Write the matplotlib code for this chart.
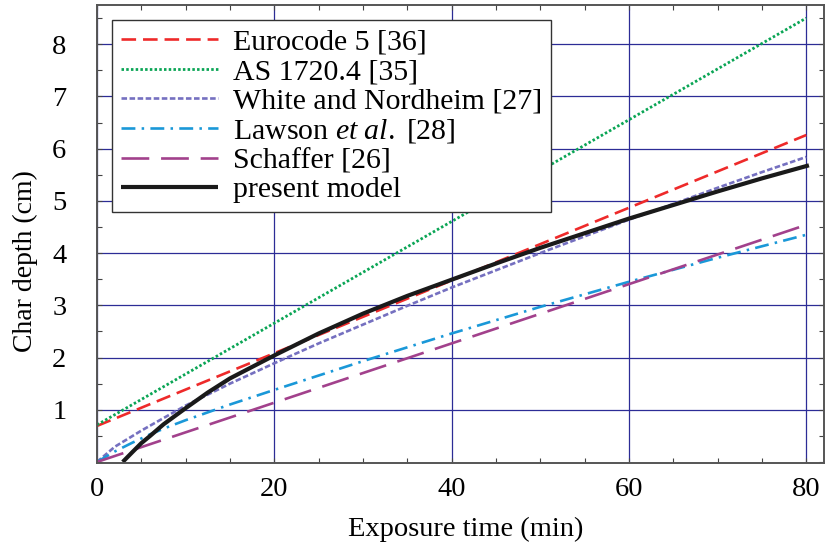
import matplotlib
matplotlib.use('Agg')
import matplotlib.pyplot as plt
from matplotlib.ticker import MultipleLocator

plt.rcParams['font.family'] = ['Liberation Serif', 'DejaVu Serif']
plt.rcParams['mathtext.fontset'] = 'custom'
plt.rcParams['mathtext.rm'] = 'Liberation Serif'
plt.rcParams['mathtext.it'] = 'Liberation Serif:italic'
plt.rcParams['lines.scale_dashes'] = False

# data
euro_t = [0, 80]
euro_d = [0.69, 6.26]

as_t = [0, 80]
as_d = [0.71, 8.5]

wn_t = [0, 2, 5, 10, 15, 20, 25, 30, 35, 40, 45, 50, 55, 60, 65, 70, 75, 80]
wn_d = [0, 0.29, 0.6, 1.08, 1.5, 1.89, 2.27, 2.63, 2.99, 3.34, 3.67, 4.0, 4.32, 4.64, 4.94, 5.25, 5.55, 5.84]

law_t = [0, 2, 4, 6, 8, 10, 15, 20, 30, 40, 50, 60, 70, 80]
law_d = [0, 0.2, 0.37, 0.53, 0.67, 0.8, 1.1, 1.38, 1.93, 2.46, 2.97, 3.45, 3.91, 4.35]

sch_t = [0, 80]
sch_d = [0, 4.54]

pm_t = [2.9, 4, 5, 6, 7.5, 10, 12.5, 15, 20, 25, 30, 35, 40, 45, 50, 55, 60, 65, 70, 75, 80.3]
pm_d = [0, 0.19, 0.36, 0.5, 0.72, 1.03, 1.33, 1.6, 2.04, 2.46, 2.84, 3.18, 3.49, 3.8, 4.1, 4.38, 4.66, 4.92, 5.18, 5.43, 5.68]

labels = ['Eurocode 5 [36]', 'AS 1720.4 [35]', 'White and Nordheim [27]',
          r'Lawson $et\ al.\ $[28]', 'Schaffer [26]', 'present model']

fig = plt.figure(figsize=(8.25, 5.47), dpi=100)
ax = fig.add_axes([97/825, 1-463/547, 727/825, 458/547])

ax.plot(euro_t, euro_d, color='#ee2a2a', lw=1.9, dashes=(10.5, 5), label=labels[0])
ax.plot(as_t, as_d, color='#0aa555', lw=2.0, dashes=(1.8, 1.6), label=labels[1])
ax.plot(wn_t, wn_d, color='#7570c0', lw=1.9, dashes=(4, 1.8), label=labels[2])
ax.plot(law_t, law_d, color='#1a98d8', lw=1.9, dashes=(10, 4.5, 1.8, 4.5), label=labels[3])
ax.plot(sch_t, sch_d, color='#a2418c', lw=1.9, dashes=(20, 8.5), label=labels[4])
ax.plot(pm_t, pm_d, color='#1a1a1a', lw=3.0, solid_capstyle='butt', label=labels[5])

ax.set_xlim(0, 82)
ax.set_ylim(-0.02, 8.75)
ax.set_xticks([0, 20, 40, 60, 80])
ax.set_yticks([1, 2, 3, 4, 5, 6, 7, 8])
ax.xaxis.set_minor_locator(MultipleLocator(5))
ax.yaxis.set_minor_locator(MultipleLocator(0.5))
ax.tick_params(which='both', direction='in', top=True, right=True, length=3.5,
               width=0.8, color='#444444', labelsize=20.5)
ax.tick_params(axis='y', pad=22)
ax.tick_params(axis='x', pad=10)
ax.grid(True, which='major', color='#2c2c96', lw=0.9)
ax.set_axisbelow(True)
for s in ax.spines.values():
    s.set_color('#555555')
    s.set_linewidth(1.4)

ax.set_xlabel('Exposure time (min)', fontsize=20.5)
ax.set_ylabel('Char depth (cm)', fontsize=20)
ax.xaxis.set_label_coords((466 - 97) / 727, -(529 - 463) / 458)
ax.yaxis.set_label_coords(-(97 - 25) / 727, 0.44)
ax.xaxis.label.set_va('center')
ax.yaxis.label.set_va('center')

leg = ax.legend(loc='upper left', bbox_to_anchor=(112/825, 1-20/547),
                bbox_transform=fig.transFigure, borderaxespad=0, fontsize=21.5,
                handlelength=3.25, handletextpad=0.5, labelspacing=0.08,
                borderpad=0.3, fancybox=False, framealpha=1, edgecolor='#333333')
leg.get_frame().set_linewidth(1.0)

fig.savefig('out.png', dpi=100)
